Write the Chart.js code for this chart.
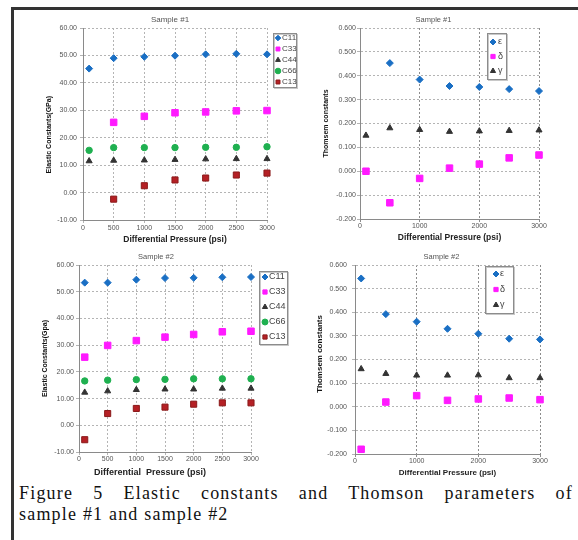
<!DOCTYPE html>
<html>
<head>
<meta charset="utf-8">
<title>Figure 5</title>
<script src="https://cdn.jsdelivr.net/npm/chart.js@4.4.1/dist/chart.umd.min.js"></script>
<style>
  body { margin: 0; background: #fff; width: 578px; height: 540px; overflow: hidden; position: relative; }
  .frame { position: absolute; left: 11px; top: 7px; width: 600px; height: 560px;
           border-left: 3px solid #333; border-top: 3px solid #333; }
  canvas { position: absolute; }
  #c1 { left: 14px; top: 10px; }
  #c2 { left: 300px; top: 10px; }
  #c3 { left: 14px; top: 250px; }
  #c4 { left: 300px; top: 250px; }
  .caption { position: absolute; left: 19px; top: 483px; width: 554px; color: #111;
             font: 18px/21px "Liberation Serif", "Times New Roman", serif; letter-spacing: 1.2px; }
  .caption .l1 { text-align: justify; text-align-last: justify; }
</style>
</head>
<body>
<div class="frame"></div>
<canvas id="c1" width="286" height="240"></canvas>
<canvas id="c2" width="278" height="240"></canvas>
<canvas id="c3" width="286" height="232"></canvas>
<canvas id="c4" width="278" height="232"></canvas>
<div class="caption">
  <div class="l1">Figure 5 Elastic constants and Thomson parameters of</div>
  <div>sample #1 and sample #2</div>
</div>
<script>
// pressures (psi)
const pressure = [100, 500, 1000, 1500, 2000, 2500, 3000];

// Sample #1 - elastic constants (GPa)
const s1C11 = [45.2, 49.0, 49.5, 49.9, 50.4, 50.6, 50.4];
const s1C33 = [null, 25.6, 27.8, 29.1, 29.4, 29.8, 29.9];
const s1C44 = [11.5, 11.7, 11.8, 12.0, 12.2, 12.3, 12.3];
const s1C66 = [15.4, 16.4, 16.4, 16.4, 16.5, 16.5, 16.7];
const s1C13 = [null, -2.4, 2.5, 4.6, 5.3, 6.4, 7.1];

// Sample #1 - Thomsen parameters
const s1Eps = [null, 0.453, 0.384, 0.357, 0.353, 0.344, 0.336];
const s1Delta = [0.000, -0.132, -0.030, 0.013, 0.030, 0.056, 0.068];
const s1Gamma = [0.150, 0.181, 0.174, 0.166, 0.168, 0.170, 0.172];

// Sample #2 - elastic constants (GPa)
const s2C11 = [53.4, 53.4, 54.5, 55.1, 55.2, 55.4, 55.5];
const s2C33 = [25.5, 29.9, 31.7, 33.0, 34.0, 35.0, 35.2];
const s2C44 = [12.3, 12.8, 13.3, 13.5, 13.5, 13.8, 13.8];
const s2C66 = [16.6, 16.9, 17.1, 17.2, 17.4, 17.4, 17.4];
const s2C13 = [-5.4, 4.4, 6.3, 6.8, 7.9, 8.4, 8.4];

// Sample #2 - Thomsen parameters
const s2Eps = [0.543, 0.392, 0.360, 0.330, 0.309, 0.288, 0.285];
const s2Delta = [-0.180, 0.020, 0.047, 0.027, 0.033, 0.037, 0.030];
const s2Gamma = [0.160, 0.140, 0.133, 0.133, 0.134, 0.122, 0.122];

const elasticLabels = ['C11', 'C33', 'C44', 'C66', 'C13'];
const thomsenLabels = ['ε', 'δ', 'γ'];

// marker looks
const marks = {
  blue:    { pointStyle: 'rectRot',  radius: 3.5, bg: '#1a6fc4', bd: '#1a6fc4' },
  magenta: { pointStyle: 'rect',     radius: 4.6, bg: '#ff1aff', bd: '#ff1aff' },
  black:   { pointStyle: 'triangle', radius: 3.5, bg: '#333333', bd: '#333333' },
  green:   { pointStyle: 'circle',   radius: 3.2, bg: '#1fb050', bd: '#1fb050' },
  red:     { pointStyle: 'rect',     radius: 4.3, bg: '#b52025', bd: '#8a1a1a' }
};

Chart.defaults.font.family = '"Liberation Sans", Arial, sans-serif';

// pad a title with spaces so the centred text sits where the original put it
const pad = (s, before, after) => ' '.repeat(before) + s + ' '.repeat(after);

function series(label, vals, m) {
  return {
    label: label,
    data: pressure.map((p, i) => ({ x: p, y: vals[i] })).filter(d => d.y !== null),
    pointStyle: m.pointStyle,
    pointRadius: m.radius,
    backgroundColor: m.bg,
    borderColor: m.bd,
    borderWidth: 1,
    showLine: false,
    clip: false
  };
}

// title + boxed legend drawn next to / inside the plot area
const panelDecor = {
  id: 'panelDecor',
  afterDraw(chart, args, o) {
    const { ctx, chartArea: a } = chart;
    ctx.save();
    ctx.font = o.titleSize + 'px "Liberation Sans", Arial';
    ctx.fillStyle = '#555';
    ctx.textAlign = 'center';
    ctx.textBaseline = 'middle';
    ctx.fillText(o.title, (a.left + a.right) / 2 + o.titleDx, a.top - 8);

    const bx = Math.round(a.left + o.lx), by = Math.round(a.top + o.ly);
    ctx.fillStyle = '#fff';
    ctx.fillRect(bx, by, o.lw, o.lh);
    ctx.strokeStyle = '#c8c8c8';
    ctx.lineWidth = 1;
    ctx.strokeRect(bx + 1.5, by + 1.5, o.lw, o.lh);
    ctx.strokeStyle = '#8c8c8c';
    ctx.strokeRect(bx + 0.5, by + 0.5, o.lw, o.lh);

    ctx.font = o.legendSize + 'px "Liberation Sans", Arial';
    ctx.textAlign = 'left';
    chart.data.datasets.forEach((ds, i) => {
      const y = by + o.firstRow + i * o.rowGap;
      ctx.fillStyle = ds.backgroundColor;
      ctx.strokeStyle = ds.borderColor;
      ctx.lineWidth = 1;
      Chart.helpers.drawPoint(ctx, { pointStyle: ds.pointStyle, radius: o.markR, rotation: 0, borderWidth: 1 }, bx + o.markX, y);
      ctx.fillStyle = '#444';
      ctx.fillText(ds.label, bx + o.textX, y);
    });
    ctx.restore();
  }
};

function makeChart(id, datasets, c) {
  return new Chart(document.getElementById(id), {
    type: 'scatter',
    data: { datasets: datasets },
    options: {
      responsive: false,
      animation: false,
      events: [],
      layout: { padding: c.pad },
      plugins: {
        legend: { display: false },
        tooltip: { enabled: false },
        panelDecor: c.decor
      },
      scales: {
        x: {
          type: 'linear', min: 0, max: 3000,
          ticks: { stepSize: c.xStep, font: { size: 7 }, color: '#555', padding: c.xTickPad, maxRotation: 0, autoSkip: false,
                   callback: v => String(v) },
          grid: { color: c.xGrid, tickLength: 3 },
          border: { color: '#8a8a8a', dash: [2, 2] },
          title: { display: true, text: c.xTitle, color: '#222', font: { size: c.xTitleSize, weight: 'bold' },
                   padding: { top: 0, bottom: c.xTitlePad } },
          afterFit: s => { s.height = c.xH; }
        },
        y: {
          min: c.yMin, max: c.yMax,
          ticks: { stepSize: c.yStep, font: { size: 7 }, color: '#555', padding: c.yTickPad,
                   callback: v => v.toFixed(c.dec) },
          grid: { color: '#b4b4b4', tickLength: 3 },
          border: { color: '#8a8a8a', dash: [2, 2] },
          title: { display: true, text: c.yTitle, color: '#111', font: { size: c.yTitleSize, weight: 'bold' },
                   padding: { top: 0, bottom: 0 } },
          afterFit: s => { s.width = c.yW; }
        }
      }
    },
    plugins: [panelDecor]
  });
}

const mk = [marks.blue, marks.magenta, marks.black, marks.green, marks.red];
const mt = [marks.blue, marks.magenta, marks.black];

// Sample #1, elastic constants
makeChart('c1', [s1C11, s1C33, s1C44, s1C66, s1C13].map((v, i) => series(elasticLabels[i], v, mk[i])), {
  pad: { top: 18, left: 30.8, right: 33, bottom: 0 },
  xStep: 500, xTickPad: 1, xGrid: '#b4b4b4', xTitle: 'Differential Pressure (psi)', xTitleSize: 8.5, xTitlePad: 4.9, xH: 30,
  yMin: -10, yMax: 60, yStep: 10, dec: 2, yTickPad: 3, yTitle: pad('Elastic Constants(GPa)', 0, 11), yTitleSize: 7, yW: 38.2,
  decor: { title: 'Sample #1', titleSize: 8, titleDx: -5, lx: 190, ly: 5, lw: 23, lh: 54,
           firstRow: 5, rowGap: 11, markX: 5, markR: 2.8, textX: 9, legendSize: 8 }
});

// Sample #1, Thomsen parameters
makeChart('c2', [s1Eps, s1Delta, s1Gamma].map((v, i) => series(thomsenLabels[i], v, mt[i])), {
  pad: { top: 18, left: 21.8, right: 39, bottom: 0 },
  xStep: 1000, xTickPad: 0, xGrid: '#8c8c8c', xTitle: 'Differential Pressure (psi)', xTitleSize: 8.5, xTitlePad: 6.9, xH: 31,
  yMin: -0.2, yMax: 0.6, yStep: 0.1, dec: 3, yTickPad: 1, yTitle: 'Thomsem constants', yTitleSize: 7, yW: 38.2,
  decor: { title: 'Sample #1', titleSize: 7.5, titleDx: -16, lx: 127, ly: 5, lw: 19, lh: 46,
           firstRow: 9, rowGap: 14.5, markX: 6, markR: 3, textX: 11, legendSize: 9 }
});

// Sample #2, elastic constants
makeChart('c3', [s2C11, s2C33, s2C44, s2C66, s2C13].map((v, i) => series(elasticLabels[i], v, mk[i])), {
  pad: { top: 15, left: 26.8, right: 49, bottom: 0 },
  xStep: 500, xTickPad: 0, xGrid: '#b4b4b4', xTitle: pad('Differential  Pressure (psi)', 0, 12), xTitleSize: 9, xTitlePad: 3.8, xH: 30,
  yMin: -10, yMax: 60, yStep: 10, dec: 2, yTickPad: 2, yTitle: 'Elastic Constants(Gpa)', yTitleSize: 7, yW: 38.2,
  decor: { title: 'Sample #2', titleSize: 7.5, titleDx: -9, lx: 180, ly: 6, lw: 28, lh: 73,
           firstRow: 6, rowGap: 15, markX: 6, markR: 3, textX: 10, legendSize: 9 }
});

// Sample #2, Thomsen parameters
makeChart('c4', [s2Eps, s2Delta, s2Gamma].map((v, i) => series(thomsenLabels[i], v, mt[i])), {
  pad: { top: 15, left: 15.2, right: 38, bottom: 0 },
  xStep: 1000, xTickPad: 0, xGrid: '#8c8c8c', xTitle: 'Differential Pressure (psi)', xTitleSize: 8, xTitlePad: 4.2, xH: 28,
  yMin: -0.2, yMax: 0.6, yStep: 0.1, dec: 3, yTickPad: 5, yTitle: pad('Thomsem constants', 5, 0), yTitleSize: 8, yW: 39.8,
  decor: { title: 'Sample #2', titleSize: 7.5, titleDx: -6, lx: 130, ly: 1, lw: 28, lh: 47,
           firstRow: 8, rowGap: 15.5, markX: 11, markR: 3, textX: 15, legendSize: 9 }
});
</script>
</body>
</html>
